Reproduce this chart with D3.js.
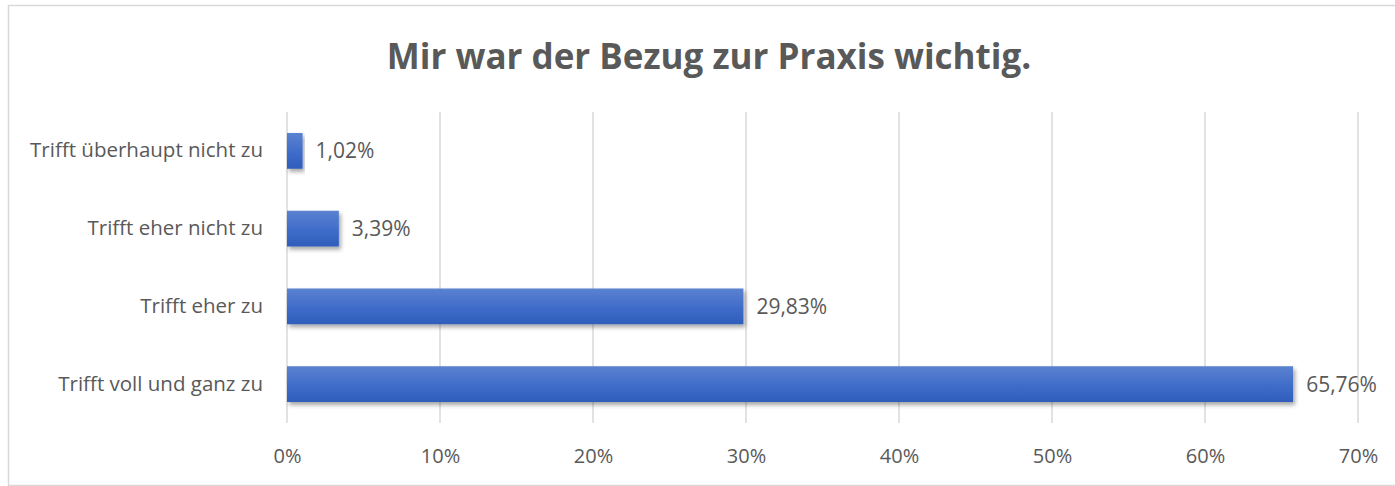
<!DOCTYPE html>
<html>
<head>
<meta charset="utf-8">
<script src="https://cdn.jsdelivr.net/npm/d3@7"></script>
<style>
  body { margin: 0; background: #fff; }
  text { font-family: "Open Sans", "Noto Sans", sans-serif; fill: #595959; }
</style>
</head>
<body>
<div id="chart"></div>
<script>
const categories = ["Trifft überhaupt nicht zu", "Trifft eher nicht zu", "Trifft eher zu", "Trifft voll und ganz zu"];
const values = [1.02, 3.39, 29.83, 65.76];
const xTicks = [0, 10, 20, 30, 40, 50, 60, 70];
const title = "Mir war der Bezug zur Praxis wichtig.";

const W = 1395, H = 486;
const margin = {top: 112, right: 37, bottom: 63, left: 287};
const width = W - margin.left - margin.right;
const height = H - margin.top - margin.bottom;

const root = d3.select("#chart").append("svg")
  .attr("width", W)
  .attr("height", H);

// gradient + shadow for the bars
const defs = root.append("defs");
const grad = defs.append("linearGradient")
  .attr("id", "barGrad")
  .attr("x1", 0).attr("y1", 0).attr("x2", 0).attr("y2", 1);
grad.append("stop").attr("offset", "0%").attr("stop-color", "#5b82d0");
grad.append("stop").attr("offset", "55%").attr("stop-color", "#3f6cc9");
grad.append("stop").attr("offset", "100%").attr("stop-color", "#2f5dbb");
const shadow = defs.append("filter")
  .attr("id", "shadow")
  .attr("x", "-5%").attr("y", "-20%").attr("width", "120%").attr("height", "160%");
shadow.append("feDropShadow")
  .attr("dx", 2).attr("dy", 3)
  .attr("stdDeviation", 2)
  .attr("flood-color", "#000")
  .attr("flood-opacity", 0.35);

// chart frame
root.append("rect")
  .attr("x", 8.5).attr("y", 5.5)
  .attr("width", W).attr("height", H - 6)
  .attr("fill", "none")
  .attr("stroke", "#d9d9d9")
  .attr("stroke-width", 1.5);

root.append("text")
  .attr("x", 709)
  .attr("y", 69)
  .attr("text-anchor", "middle")
  .style("font-size", "35px")
  .style("font-weight", "bold")
  .text(title);

const svg = root.append("g")
  .attr("transform", `translate(${margin.left},${margin.top})`);

const x = d3.scaleLinear().domain([0, 70]).range([0, width]);
const y = d3.scaleBand().domain(categories).range([0, height])
  .paddingInner(0.54).paddingOuter(0.27);

// gridlines
svg.selectAll(".grid")
  .data(xTicks)
  .enter()
  .append("line")
  .attr("x1", d => x(d)).attr("x2", d => x(d))
  .attr("y1", 0).attr("y2", height)
  .attr("stroke", "#d9d9d9")
  .attr("stroke-width", 1.5);

// x axis
const xAxis = svg.append("g")
  .attr("transform", `translate(0,${height})`)
  .call(d3.axisBottom(x).tickValues(xTicks).tickSize(0).tickPadding(26).tickFormat(d => d + "%"));
xAxis.select(".domain").remove();
xAxis.selectAll("text")
  .style("font-size", "20px")
  .attr("fill", "#595959");

// y axis
const yAxis = svg.append("g")
  .call(d3.axisLeft(y).tickSize(0).tickPadding(24));
yAxis.select(".domain").remove();
yAxis.selectAll("text")
  .style("font-size", "20.5px")
  .attr("fill", "#595959");

// bars
svg.selectAll(".bar")
  .data(values)
  .enter()
  .append("rect")
  .attr("class", "bar")
  .attr("x", x(0))
  .attr("y", (d, i) => y(categories[i]))
  .attr("width", d => x(d) - x(0))
  .attr("height", y.bandwidth())
  .attr("fill", "url(#barGrad)")
  .attr("filter", "url(#shadow)");

// value labels
svg.selectAll(".label")
  .data(values)
  .enter()
  .append("text")
  .attr("class", "label")
  .attr("x", d => x(d) + 13)
  .attr("y", (d, i) => y(categories[i]) + y.bandwidth() / 2)
  .attr("dy", "0.36em")
  .style("font-size", "21px")
  .text(d => d.toFixed(2).replace(".", ",") + "%");
</script>
</body>
</html>
